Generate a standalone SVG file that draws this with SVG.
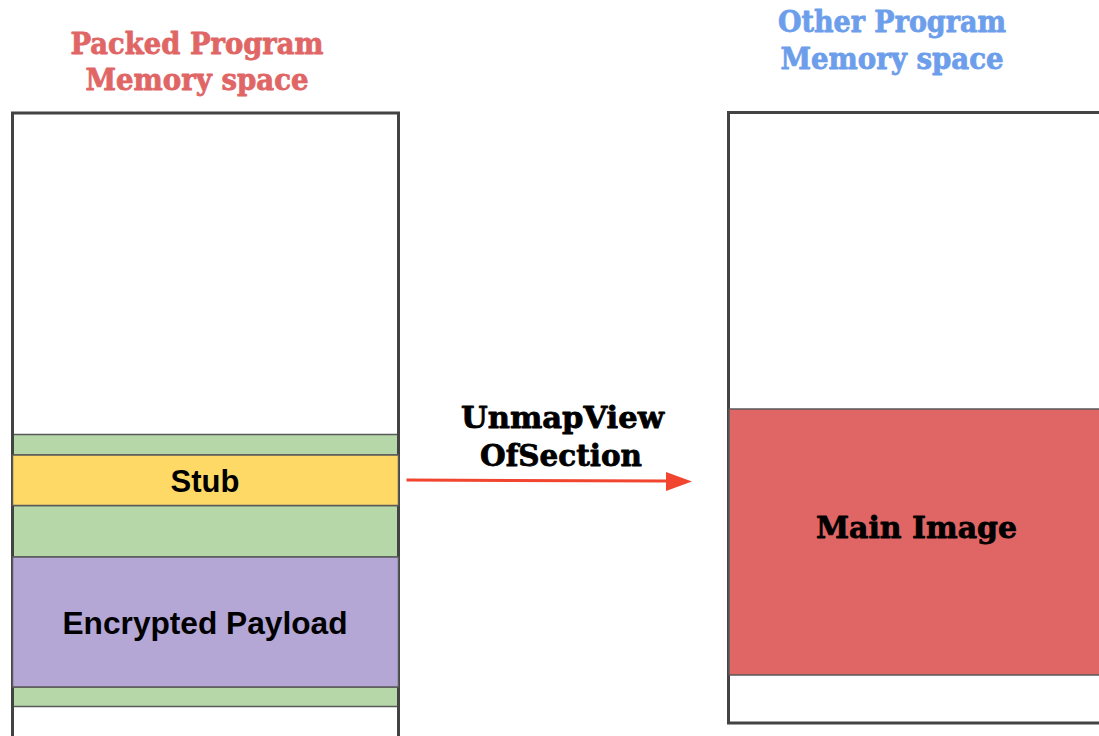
<svg xmlns="http://www.w3.org/2000/svg" width="1099" height="736" viewBox="0 0 1099 736">
  <defs>
    <style>
      .frame { fill: none; stroke: #434343; stroke-width: 3; }
      .band { stroke: #595959; stroke-width: 1.5; }
      .green { fill: #b6d7a8; }
      .yellow { fill: #ffd966; }
      .purple { fill: #b4a7d6; }
      .red { fill: #e06666; }
      .slab { font-family: "DejaVu Serif", "Liberation Serif", serif; font-weight: bold; text-anchor: middle; stroke-width: 0.8; stroke-linejoin: round; }
      .sans { font-family: "Liberation Sans", Arial, sans-serif; font-weight: bold; font-size: 31px; fill: #000; text-anchor: middle; }
      .title-left { fill: #e06666; stroke: #e06666; font-size: 29px; }
      .title-right { fill: #6d9eeb; stroke: #6d9eeb; font-size: 29px; }
      .op { fill: #000; stroke: #000; font-size: 30px; }
      .arrow { stroke: #f1452f; stroke-width: 3; fill: none; }
    </style>
  </defs>

  <rect width="1099" height="736" fill="#ffffff"/>

  <!-- Left: packed program memory -->
  <g id="packed-title">
    <text class="slab title-left" x="197" y="54" textLength="253" lengthAdjust="spacingAndGlyphs">Packed Program</text>
    <text class="slab title-left" x="197" y="90" textLength="223" lengthAdjust="spacingAndGlyphs">Memory space</text>
  </g>

  <g id="packed-memory">
    <rect class="band green" x="12.5" y="434.5" width="386" height="20.5"/>
    <rect class="band green" x="12.5" y="505.5" width="386" height="51.5"/>
    <rect class="band green" x="12.5" y="687" width="386" height="19.5"/>
    <rect class="frame" x="12.5" y="113" width="386" height="700"/>
  </g>

  <g id="stub">
    <rect class="band yellow" x="12.5" y="455" width="386" height="50.5"/>
    <text class="sans" x="205" y="491.5">Stub</text>
  </g>

  <g id="encrypted-payload">
    <rect class="band purple" x="12.5" y="557" width="386" height="130"/>
    <text class="sans" x="205" y="633.5" textLength="285" lengthAdjust="spacingAndGlyphs">Encrypted Payload</text>
  </g>

  <!-- Right: other program memory -->
  <g id="other-title">
    <text class="slab title-right" x="892" y="32" textLength="228" lengthAdjust="spacingAndGlyphs">Other Program</text>
    <text class="slab title-right" x="892" y="69" textLength="223" lengthAdjust="spacingAndGlyphs">Memory space</text>
  </g>

  <g id="other-memory">
    <rect class="frame" x="728.5" y="112.5" width="420" height="610.5"/>
  </g>

  <g id="main-image">
    <rect class="band red" x="729" y="409" width="420" height="266"/>
    <text class="slab op" x="916.5" y="537.5" textLength="201" lengthAdjust="spacingAndGlyphs">Main Image</text>
  </g>

  <!-- Connector: stub to remote image -->
  <g id="connectors">
    <line class="arrow" x1="406.5" y1="480" x2="668" y2="481"/>
    <polygon points="666,472 692,481.5 666,491" fill="#f1452f"/>
    <text class="slab op" x="562.5" y="427.5" textLength="203" lengthAdjust="spacingAndGlyphs">UnmapView</text>
    <text class="slab op" x="561" y="466" textLength="162" lengthAdjust="spacingAndGlyphs">OfSection</text>
  </g>
</svg>
